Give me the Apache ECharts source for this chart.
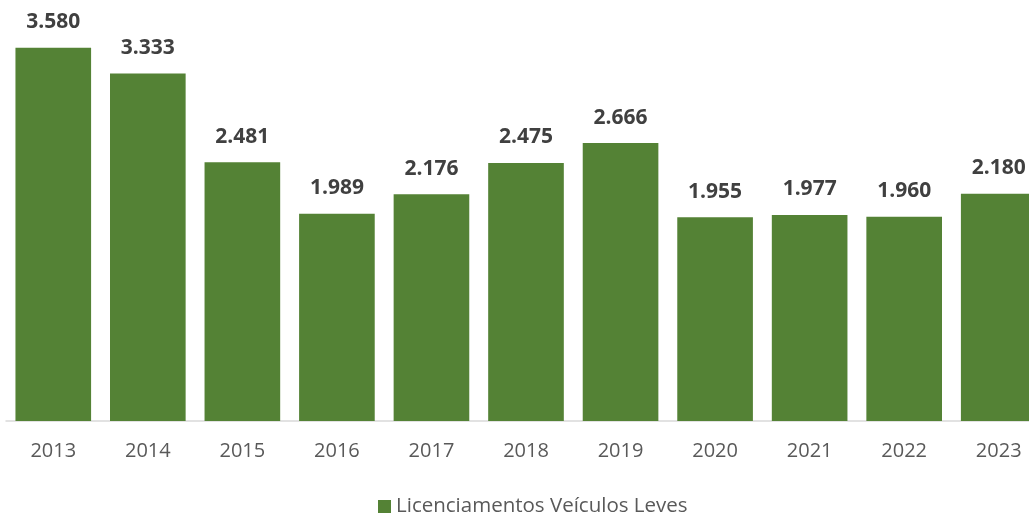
<!DOCTYPE html>
<html>
<head>
<meta charset="utf-8">
<style>
  html, body { margin: 0; padding: 0; background: #ffffff; overflow: hidden; }
  /* the plot runs a little past the right edge of the window */
  #chart { width: 1046px; height: 515px; }
</style>
<script src="https://cdn.jsdelivr.net/npm/echarts@6/dist/echarts.min.js"></script>
</head>
<body>
<div id="chart"></div>
<script>
const years = ['2013', '2014', '2015', '2016', '2017', '2018', '2019', '2020', '2021', '2022', '2023'];
const licenciamentos = [3580, 3333, 2481, 1989, 2176, 2475, 2666, 1955, 1977, 1960, 2180];
const seriesName = 'Licenciamentos Veículos Leves';

// Thousands separated by a dot (pt-BR style)
function fmt(v) {
  return String(v).replace(/\B(?=(\d{3})+(?!\d))/g, '.');
}

const chart = echarts.init(document.getElementById('chart'));
chart.setOption({
  animation: false,
  grid: { left: 6, top: 4, right: 0, height: 417, containLabel: false },
  legend: {
    left: 373, top: 491,
    itemWidth: 13, itemHeight: 13, itemGap: 5,
    icon: 'rect',
    textStyle: { fontFamily: 'Open Sans', fontSize: 20.5, color: '#595959' },
    data: [seriesName]
  },
  xAxis: {
    type: 'category',
    data: years,
    axisLine: { lineStyle: { color: '#d9d9d9', width: 1.5 } },
    axisTick: { show: false },
    axisLabel: { fontFamily: 'Open Sans', fontSize: 20, color: '#595959', margin: 20 }
  },
  yAxis: {
    type: 'value', min: 0, max: 4000, show: false,
    splitLine: { show: false }
  },
  series: [{
    name: seriesName,
    type: 'bar',
    data: licenciamentos,
    barWidth: '80%',
    itemStyle: { color: '#548235' },
    label: {
      show: true, position: 'top', distance: 15,
      fontFamily: 'Open Sans', fontWeight: 'bold', fontSize: 21, color: '#404040',
      formatter: p => fmt(p.value)
    }
  }]
});
</script>
</body>
</html>
